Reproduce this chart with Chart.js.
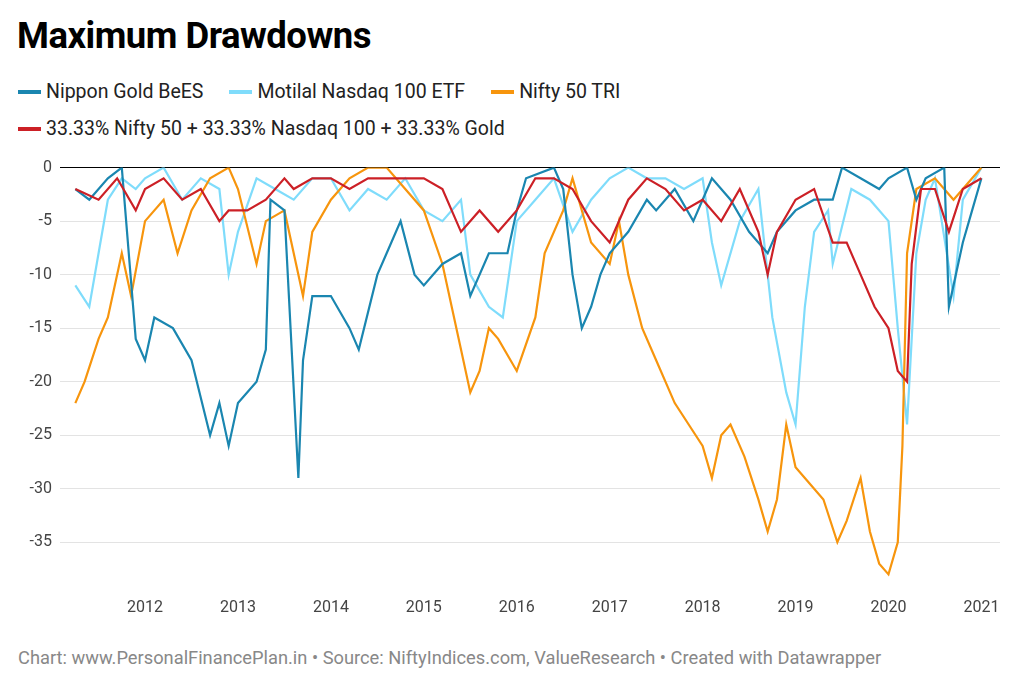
<!DOCTYPE html>
<html>
<head>
<meta charset="utf-8">
<script src="https://cdn.jsdelivr.net/npm/chart.js@4"></script>
<style>
  body { margin:0; width:1024px; height:694px; background:#fff; font-family:Roboto, "Noto Sans", sans-serif; position:relative; overflow:hidden; }
  #title { position:absolute; left:17px; top:14px; font-size:36.5px; font-weight:bold; color:#000; letter-spacing:-0.5px; }
  .leg { position:absolute; left:18px; font-size:19.5px; color:#222; display:flex; gap:26px; }
  .leg span { display:flex; align-items:center; }
  .leg i { display:inline-block; width:23px; height:4px; margin-right:5px; }
  #foot { position:absolute; left:18px; top:647px; font-size:18.3px; color:#888; }
  #wrap { position:absolute; left:0; top:150px; width:1024px; height:470px; }
</style>
</head>
<body>
<div id="title">Maximum Drawdowns</div>
<div class="leg" style="top:80px">
  <span><i style="background:#1a86b0"></i>Nippon Gold BeES</span>
  <span><i style="background:#7fdcfb"></i>Motilal Nasdaq 100 ETF</span>
  <span><i style="background:#f7950d"></i>Nifty 50 TRI</span>
</div>
<div class="leg" style="top:117px">
  <span><i style="background:#cc2026"></i>33.33% Nifty 50 + 33.33% Nasdaq 100 + 33.33% Gold</span>
</div>
<div id="wrap"><canvas id="grafico"></canvas></div>
<div id="foot">Chart: www.PersonalFinancePlan.in • Source: NiftyIndices.com, ValueResearch • Created with Datawrapper</div>
<script>
// ===== DADOS =====
const goldX = [2011.25,2011.4,2011.6,2011.75,2011.9,2012.0,2012.1,2012.3,2012.5,2012.7,2012.8,2012.9,2013.0,2013.2,2013.3,2013.35,2013.5,2013.65,2013.7,2013.8,2014.0,2014.2,2014.3,2014.5,2014.6,2014.75,2014.9,2015.0,2015.2,2015.4,2015.5,2015.7,2015.9,2016.0,2016.1,2016.4,2016.5,2016.6,2016.7,2016.8,2016.9,2017.0,2017.2,2017.4,2017.5,2017.7,2017.9,2018.0,2018.1,2018.3,2018.5,2018.7,2018.8,2019.0,2019.2,2019.4,2019.5,2019.7,2019.9,2020.0,2020.2,2020.3,2020.4,2020.6,2020.65,2020.8,2020.9,2021.0];
const goldY = [-2,-3,-1,0,-16,-18,-14,-15,-18,-25,-22,-26,-22,-20,-17,-3,-4,-29,-18,-12,-12,-15,-17,-10,-8,-5,-10,-11,-9,-8,-12,-8,-8,-4,-1,0,-2,-10,-15,-13,-10,-8,-6,-3,-4,-2,-5,-3,-1,-3,-6,-8,-6,-4,-3,-3,0,-1,-2,-1,0,-3,-1,0,-13,-7,-4,-1];

const nasdaqX = [2011.25,2011.4,2011.5,2011.6,2011.75,2011.9,2012.0,2012.2,2012.4,2012.6,2012.8,2012.9,2013.0,2013.2,2013.4,2013.6,2013.8,2014.0,2014.2,2014.4,2014.6,2014.8,2015.0,2015.2,2015.4,2015.5,2015.7,2015.85,2016.0,2016.2,2016.4,2016.6,2016.8,2017.0,2017.2,2017.4,2017.6,2017.8,2018.0,2018.1,2018.2,2018.4,2018.6,2018.75,2018.9,2019.0,2019.1,2019.2,2019.35,2019.4,2019.6,2019.8,2020.0,2020.1,2020.2,2020.3,2020.4,2020.5,2020.7,2020.8,2021.0];
const nasdaqY = [-11,-13,-8,-3,-1,-2,-1,0,-3,-1,-2,-10,-6,-1,-2,-3,-1,-1,-4,-2,-3,-1,-4,-5,-3,-10,-13,-14,-5,-3,-1,-6,-3,-1,0,-1,-1,-2,-1,-7,-11,-5,-2,-14,-21,-24,-13,-6,-4,-9,-2,-3,-5,-15,-24,-8,-3,-1,-12,-3,0];

const niftyX = [2011.25,2011.35,2011.5,2011.6,2011.75,2011.85,2012.0,2012.2,2012.35,2012.5,2012.7,2012.9,2013.0,2013.2,2013.3,2013.5,2013.6,2013.7,2013.8,2014.0,2014.2,2014.4,2014.6,2014.8,2015.0,2015.2,2015.4,2015.5,2015.6,2015.7,2015.8,2016.0,2016.2,2016.3,2016.5,2016.6,2016.8,2017.0,2017.1,2017.2,2017.35,2017.5,2017.7,2017.85,2018.0,2018.1,2018.2,2018.3,2018.45,2018.6,2018.7,2018.8,2018.9,2019.0,2019.1,2019.3,2019.45,2019.55,2019.7,2019.8,2019.9,2020.0,2020.1,2020.15,2020.2,2020.3,2020.5,2020.7,2020.9,2021.0];
const niftyY = [-22,-20,-16,-14,-8,-12,-5,-3,-8,-4,-1,0,-2,-9,-5,-4,-8,-12,-6,-3,-1,0,0,-2,-4,-9,-17,-21,-19,-15,-16,-19,-14,-8,-4,-1,-7,-9,-5,-10,-15,-18,-22,-24,-26,-29,-25,-24,-27,-31,-34,-31,-24,-28,-29,-31,-35,-33,-29,-34,-37,-38,-35,-26,-8,-2,-1,-3,-1,0];

const mixX = [2011.25,2011.5,2011.7,2011.9,2012.0,2012.2,2012.4,2012.6,2012.8,2012.9,2013.1,2013.3,2013.5,2013.6,2013.8,2014.0,2014.2,2014.4,2014.6,2014.8,2015.0,2015.2,2015.4,2015.6,2015.8,2016.0,2016.2,2016.4,2016.6,2016.8,2017.0,2017.2,2017.4,2017.6,2017.8,2018.0,2018.2,2018.4,2018.6,2018.7,2018.8,2019.0,2019.2,2019.4,2019.55,2019.7,2019.85,2020.0,2020.1,2020.2,2020.25,2020.35,2020.5,2020.65,2020.8,2021.0];
const mixY = [-2,-3,-1,-4,-2,-1,-3,-2,-5,-4,-4,-3,-1,-2,-1,-1,-2,-1,-1,-1,-1,-2,-6,-4,-6,-4,-1,-1,-2,-5,-7,-3,-1,-2,-4,-3,-5,-2,-6,-10,-6,-3,-2,-7,-7,-10,-13,-15,-19,-20,-9,-2,-2,-6,-2,-1];

const anos = [2012,2013,2014,2015,2016,2017,2018,2019,2020,2021];
const yTicks = [0,-5,-10,-15,-20,-25,-30,-35];

function pontos(xs, ys) { return xs.map((x, i) => ({ x: x, y: ys[i] })); }

// ===== GRÁFICO =====
const ctx = document.getElementById('grafico').getContext('2d');
const base = { borderWidth: 2.2, pointRadius: 0, tension: 0, fill: false };
new Chart(ctx, {
  type: 'line',
  data: {
    datasets: [
      Object.assign({ label: 'Motilal Nasdaq 100 ETF', data: pontos(nasdaqX, nasdaqY), borderColor: '#7fdcfb', order: 4 }, base),
      Object.assign({ label: 'Nifty 50 TRI', data: pontos(niftyX, niftyY), borderColor: '#f7950d', order: 3 }, base),
      Object.assign({ label: 'Nippon Gold BeES', data: pontos(goldX, goldY), borderColor: '#1a86b0', order: 2 }, base),
      Object.assign({ label: 'Mix', data: pontos(mixX, mixY), borderColor: '#cc2026', order: 1 }, base)
    ]
  },
  options: {
    responsive: true, maintainAspectRatio: false, animation: false,
    layout: { padding: { top: 8, right: 24, left: 0, bottom: 0 } },
    plugins: { legend: { display: false }, tooltip: { enabled: false } },
    scales: {
      x: {
        type: 'linear', min: 2011.085, max: 2021.2,
        afterBuildTicks: s => { s.ticks = anos.map(v => ({ value: v })); },
        afterFit: s => { s.height = 36; },
        grid: { display: false }, border: { display: false },
        ticks: { color: '#444', font: { family: 'Roboto', size: 16 }, padding: 6, callback: v => String(v), maxRotation: 0 }
      },
      y: {
        min: -38.9, max: 0,
        afterBuildTicks: s => { s.ticks = yTicks.map(v => ({ value: v })); },
        afterFit: s => { s.width = 60; },
        border: { display: false },
        grid: { color: c => c.tick.value === 0 ? '#000' : '#e3e3e3', lineWidth: 1, drawTicks: false },
        ticks: { color: '#444', font: { family: 'Roboto', size: 16 }, padding: 8 }
      }
    }
  }
});
</script>
</body>
</html>
